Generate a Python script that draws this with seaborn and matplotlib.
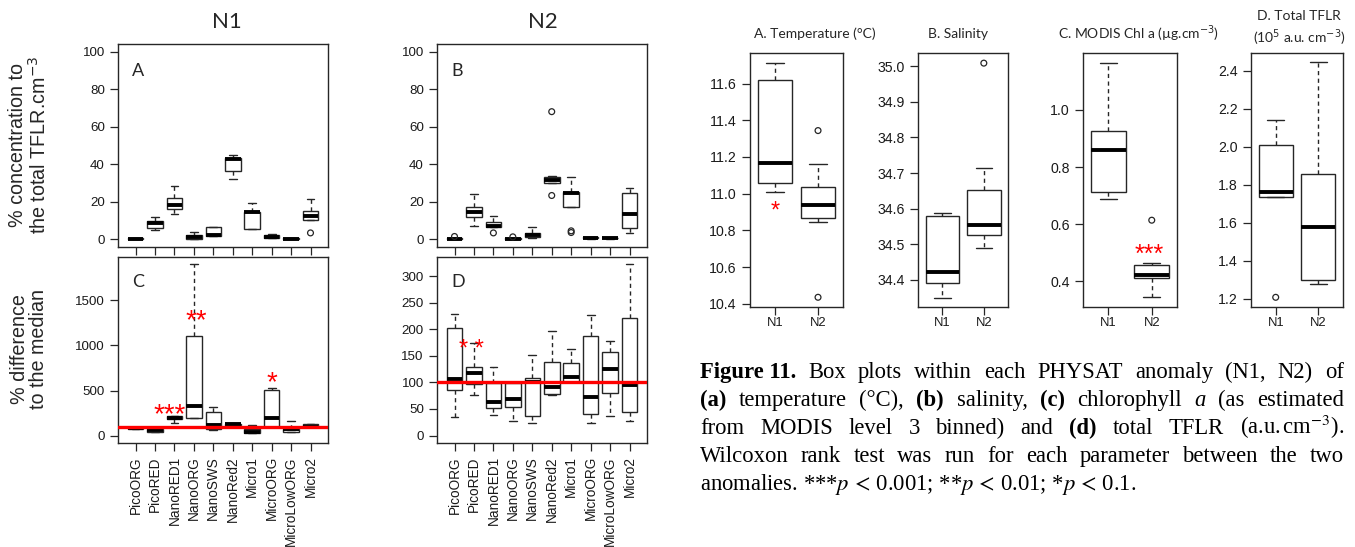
import numpy as np
import pandas as pd
import matplotlib
matplotlib.use("Agg")
import matplotlib.pyplot as plt
import matplotlib.ticker as mticker
import seaborn as sns

# ---------------------------------------------------------------- data
cats = ["PicoORG", "PicoRED", "NanoRED1", "NanoORG", "NanoSWS",
        "NanoRed2", "Micro1", "MicroORG", "MicroLowORG", "Micro2"]

# Panel A  (N1, % concentration to the total TFLR)
A_lo  = [0.1, 4.8, 13.7, 0.4, 2.0, 32.3, 5.6, 0.6, 0.1, 10.6]
A_q1  = [0.3, 5.9, 16.1, 0.5, 2.1, 36.3, 5.7, 0.7, 0.3, 10.6]
A_med = [0.5, 8.9, 18.3, 1.4, 2.3, 42.9, 14.4, 1.4, 0.5, 12.4]
A_q3  = [0.7, 9.8, 22.3, 2.3, 6.6, 43.1, 14.5, 2.3, 0.6, 15.2]
A_hi  = [0.9, 11.9, 28.4, 3.9, 6.6, 45.0, 19.5, 2.8, 0.8, 21.3]
A_out_cat = ["Micro2"]
A_out_val = [3.5]

# Panel B  (N2, % concentration to the total TFLR)
B_lo  = [0.1, 7.4, 6.4, 0.1, 0.9, 30.3, 17.4, 0.5, 0.5, 3.5]
B_q1  = [0.3, 11.9, 6.4, 0.3, 1.2, 30.3, 17.4, 0.7, 0.7, 5.9]
B_med = [0.5, 14.7, 7.1, 0.5, 2.3, 31.9, 24.6, 0.9, 0.8, 13.3]
B_q3  = [0.6, 17.4, 9.4, 0.6, 3.4, 33.5, 25.0, 1.1, 0.9, 24.5]
B_hi  = [0.8, 24.3, 12.4, 0.8, 6.6, 33.6, 33.3, 1.3, 1.0, 27.5]
B_out_cat = ["PicoORG", "NanoRED1", "NanoORG", "NanoRed2", "NanoRed2", "Micro1", "Micro1"]
B_out_val = [1.6, 3.5, 1.4, 68.0, 23.4, 4.6, 3.7]

# Panel C  (N1, % difference to the median)
C_lo  = [78, 38, 136, 191, 66, 112, 30, 95, 42, 95]
C_q1  = [80, 42, 180, 191, 70, 114, 33, 96, 44, 96]
C_med = [82, 60, 195, 331, 114, 125, 45, 195, 74, 100]
C_q3  = [84, 80, 217, 1107, 261, 130, 70, 511, 77, 128]
C_hi  = [86, 82, 224, 1897, 320, 133, 114, 533, 158, 130]

# Panel D  (N2, % difference to the median)
D_lo  = [35, 77, 39, 28, 23, 76, 100, 23, 37.5, 27]
D_q1  = [86, 97.5, 51, 54, 37.5, 79, 100, 41, 81, 44]
D_med = [106, 117, 63, 68, 100, 91, 111, 72, 126, 96]
D_q3  = [203, 129, 99, 99, 109, 138, 136, 187, 157, 221]
D_hi  = [229, 175, 129, 100, 152, 197.5, 162.5, 226, 178, 322.5]

groups = ["N1", "N2"]
T_lo, T_q1, T_med, T_q3, T_hi = [11.009, 10.844], [11.058, 10.865], [11.169, 10.936], [11.618, 11.038], [11.713, 11.160]
T_out_cat, T_out_val = ["N2", "N2"], [11.344, 10.435]
S_lo, S_q1, S_med, S_q3, S_hi = [34.350, 34.488], [34.392, 34.525], [34.421, 34.555], [34.580, 34.651], [34.588, 34.714]
S_out_cat, S_out_val = ["N2"], [35.009]
K_lo, K_q1, K_med, K_q3, K_hi = [0.688, 0.344], [0.712, 0.413], [0.860, 0.423], [0.928, 0.458], [1.165, 0.465]
K_out_cat, K_out_val = ["N2"], [0.614]
F_lo, F_q1, F_med, F_q3, F_hi = [1.735, 1.279], [1.735, 1.296], [1.763, 1.577], [2.010, 1.856], [2.142, 2.444]
F_out_cat, F_out_val = ["N1"], [1.207]

ticks_AB = [0, 20, 40, 60, 80, 100]
ticks_C = [0, 500, 1000, 1500]
ticks_D = [0, 50, 100, 150, 200, 250, 300]
ticks_T = [10.4, 10.6, 10.8, 11.0, 11.2, 11.4, 11.6]
ticks_S = [34.4, 34.5, 34.6, 34.7, 34.8, 34.9, 35.0]
ticks_K = [0.4, 0.6, 0.8, 1.0]
ticks_F = [1.2, 1.4, 1.6, 1.8, 2.0, 2.2, 2.4]

# ---------------------------------------------------------------- style
sns.set_theme(style="white")
plt.rcParams["font.family"] = ["Liberation Sans", "DejaVu Sans"]
plt.rcParams["axes.facecolor"] = "white"
LC = "#262626"
SANS = "Liberation Sans"

W, H = 1355, 547
fig = plt.figure(figsize=(W / 100, H / 100), dpi=100)
fig.patch.set_facecolor("white")


def add_ax(l, t, r, b):
    return fig.add_axes([l / W, 1 - b / H, (r - l) / W, (b - t) / H])


def long_df(labels, lo, q1, med, q3, hi):
    rows = []
    for lab, a, b, c, d, e in zip(labels, lo, q1, med, q3, hi):
        for v in (a, b, c, d, e):
            rows.append((lab, v))
    return pd.DataFrame(rows, columns=["group", "value"])


def boxes(ax, labels, lo, q1, med, q3, hi, out_cat=None, out_val=None):
    df = long_df(labels, lo, q1, med, q3, hi)
    sns.boxplot(data=df, x="group", y="value", order=labels, ax=ax,
                whis=(0, 100), width=0.8, color="white", linecolor=LC,
                linewidth=1.0, showfliers=False, fill=True,
                medianprops=dict(linewidth=2.8, color="black", solid_capstyle="butt"),
                whiskerprops=dict(linestyle=(0, (3.0, 2.5))))
    if out_cat:
        odf = pd.DataFrame({"group": out_cat, "value": out_val})
        sns.stripplot(data=odf, x="group", y="value", order=labels, ax=ax,
                      jitter=False, marker="o", size=4.2, facecolor="none",
                      edgecolor=LC, linewidth=0.9, zorder=5)
    ax.set_xlabel("")
    ax.set_ylabel("")
    for s in ax.spines.values():
        s.set_visible(True)
        s.set_color(LC)
        s.set_linewidth(1.0)
    ax.tick_params(axis="both", direction="out", length=5.5, width=0.9,
                   color=LC, labelcolor="#1a1a1a", left=True, bottom=True)


def set_tick_font(ax):
    for lbl in ax.get_xticklabels() + ax.get_yticklabels():
        lbl.set_family(SANS)


def star(ax, x, y, s, fs=20):
    ax.annotate(s, xy=(x, y), xytext=(0, -0.22 * fs), textcoords="offset points",
                ha="center", va="center", color="#ff0000", fontsize=fs,
                family=SANS, zorder=10)


# ---------------------------------------------------------------- left panels
n = len(cats)
xl10 = (-0.9, n - 1 + 0.9)
specs = [
    ((118, 44, 328, 247), A_lo, A_q1, A_med, A_q3, A_hi, A_out_cat, A_out_val, (-4, 104), ticks_AB, "A", False),
    ((437, 44, 647, 247), B_lo, B_q1, B_med, B_q3, B_hi, B_out_cat, B_out_val, (-4, 104), ticks_AB, "B", False),
    ((118, 257, 328, 443), C_lo, C_q1, C_med, C_q3, C_hi, None, None, (-80, 1977), ticks_C, "C", True),
    ((437, 257, 647, 443), D_lo, D_q1, D_med, D_q3, D_hi, None, None, (-14, 336), ticks_D, "D", True),
]
left_axes = {}
for pos, lo, q1, med, q3, hi, oc, ov, yl, yt, letter, lab in specs:
    ax = add_ax(*pos)
    boxes(ax, cats, lo, q1, med, q3, hi, oc, ov)
    ax.set_xlim(*xl10)
    ax.set_ylim(*yl)
    ax.set_yticks(yt)
    ax.set_xticks(range(n))
    ax.tick_params(axis="y", labelsize=9.6, pad=4)
    if lab:
        ax.set_xticklabels(cats, rotation=90, fontsize=9.8)
        ax.tick_params(axis="x", pad=4)
        ax.axhline(100, color="#ff0000", lw=2.4, zorder=8)
    else:
        ax.tick_params(axis="x", labelbottom=False)
    set_tick_font(ax)
    ax.text(0.068, 0.866, letter, transform=ax.transAxes, ha="left", va="center",
            fontsize=13, family="Lato")
    left_axes[letter] = ax

star(left_axes["C"], 1.78, 298, "***")
star(left_axes["C"], 3.11, 1335, "**")
star(left_axes["C"], 7.02, 654, "*")
star(left_axes["D"], 0.87, 171, "* *", fs=17)

fig.text(227 / W, 1 - 22 / H, "N1", ha="center", va="center", fontsize=16, family="Lato")
fig.text(543 / W, 1 - 22 / H, "N2", ha="center", va="center", fontsize=16, family="Lato")
fig.text(29 / W, 1 - 145 / H, "% concentration to\nthe total TFLR.cm$^{-3}$", rotation=90,
         ha="center", va="center", fontsize=14.2, linespacing=1.05, multialignment="center",
         family=SANS)
fig.text(29 / W, 1 - 349 / H, "% difference\nto the median", rotation=90,
         ha="center", va="center", fontsize=14.2, linespacing=1.05, multialignment="center",
         family=SANS)

# ---------------------------------------------------------------- right panels
xl2 = (-0.58, 1.58)
rspecs = [
    ((750, 53, 843, 307), T_lo, T_q1, T_med, T_q3, T_hi, T_out_cat, T_out_val, (10.382, 11.767), ticks_T,
     "A. Temperature (°C)"),
    ((918, 53, 1008, 307), S_lo, S_q1, S_med, S_q3, S_hi, S_out_cat, S_out_val, (34.3233, 35.0375), ticks_S,
     "B. Salinity"),
    ((1083, 53, 1177, 307), K_lo, K_q1, K_med, K_q3, K_hi, K_out_cat, K_out_val, (0.31, 1.1996), ticks_K,
     "C. MODIS Chl a (µg.cm$^{-3}$)"),
    ((1251, 53, 1343, 307), F_lo, F_q1, F_med, F_q3, F_hi, F_out_cat, F_out_val, (1.156, 2.493), ticks_F,
     "D. Total TFLR\n(10$^{5}$ a.u. cm$^{-3}$)"),
]
right_axes = []
for pos, lo, q1, med, q3, hi, oc, ov, yl, yt, title in rspecs:
    ax = add_ax(*pos)
    boxes(ax, groups, lo, q1, med, q3, hi, oc, ov)
    ax.set_xlim(*xl2)
    ax.set_ylim(*yl)
    ax.set_yticks(yt)
    ax.yaxis.set_major_formatter(mticker.FormatStrFormatter("%.1f"))
    ax.set_xticks(range(2))
    ax.set_xticklabels(groups, fontsize=9.4)
    ax.tick_params(axis="y", labelsize=10.2, pad=4)
    ax.tick_params(axis="x", pad=2)
    set_tick_font(ax)
    right_axes.append(ax)

title_y = [34, 34, 34, 29]
title_x = [815, 958, 1139, 1299]
for tx, ty, (*_, title) in zip(title_x, title_y, rspecs):
    fig.text(tx / W, 1 - ty / H, title, ha="center", va="center", fontsize=10,
             family="Lato", linespacing=1.35, multialignment="center")

star(right_axes[0], 0, 10.93, "*", fs=17)
star(right_axes[2], 0.95, 0.513, "***", fs=18)

# ---------------------------------------------------------------- caption
cap_lines = [
    [("Figure 11.", "bold", "normal"), ("Box", "normal", "normal"), ("plots", "normal", "normal"),
     ("within", "normal", "normal"), ("each", "normal", "normal"), ("PHYSAT", "normal", "normal"),
     ("anomaly", "normal", "normal"), ("(N1,", "normal", "normal"), ("N2)", "normal", "normal"),
     ("of", "normal", "normal")],
    [("(a)", "bold", "normal"), ("temperature", "normal", "normal"), ("(°C),", "normal", "normal"),
     ("(b)", "bold", "normal"), ("salinity,", "normal", "normal"), ("(c)", "bold", "normal"),
     ("chlorophyll", "normal", "normal"), ("a", "normal", "italic"), ("(as", "normal", "normal"),
     ("estimated", "normal", "normal")],
    [("from", "normal", "normal"), ("MODIS", "normal", "normal"), ("level", "normal", "normal"),
     ("3", "normal", "normal"), ("binned)", "normal", "normal"), ("and", "normal", "normal"),
     ("(d)", "bold", "normal"), ("total", "normal", "normal"), ("TFLR", "normal", "normal"),
     (r"(a.u.$\,$cm$^{-3}$).", "normal", "normal")],
    [(w, "normal", "normal") for w in
     "Wilcoxon rank test was run for each parameter between the two".split()],
]
last_line = r"anomalies. ***$p\,{<}\,$0.001; **$p\,{<}\,$0.01; *$p\,{<}\,$0.1."

CAP_FS = 16.3
x0, x1 = 700, 1344
baselines = [378, 406, 434, 462, 490]
renderer = fig.canvas.get_renderer()
for words, yb in zip(cap_lines, baselines):
    texts = [fig.text(0, 0, s, fontsize=CAP_FS, family="Liberation Serif", weight=wt,
                      style=st, math_fontfamily="stix", ha="left", va="baseline", color="black")
             for s, wt, st in words]
    widths = [t.get_window_extent(renderer).width for t in texts]
    gap = (x1 - x0 - sum(widths)) / (len(texts) - 1)
    x = x0
    for t, w in zip(texts, widths):
        t.set_position((x / W, 1 - yb / H))
        x += w + gap
fig.text(x0 / W, 1 - baselines[4] / H, last_line, fontsize=CAP_FS, family="Liberation Serif",
         math_fontfamily="stix", ha="left", va="baseline", color="black")

fig.savefig("out.png", dpi=100, facecolor="white")
